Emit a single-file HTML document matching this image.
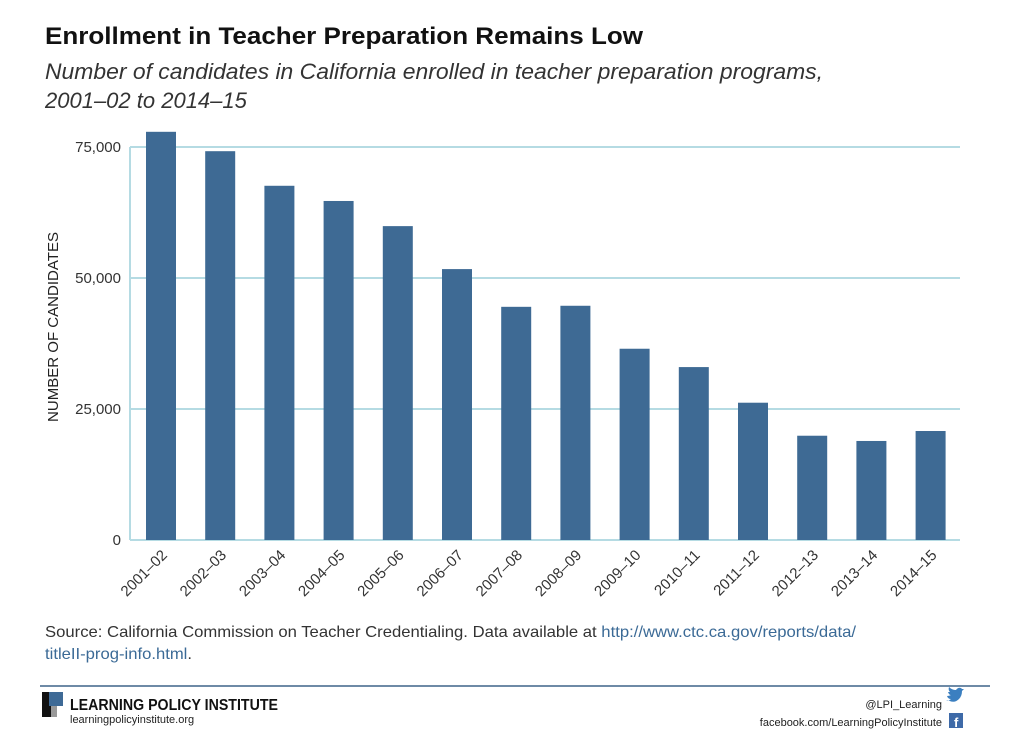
<!DOCTYPE html>
<html><head><meta charset="utf-8"><style>
body{margin:0;background:#fff;font-family:"Liberation Sans",sans-serif;}
svg{display:block}
</style></head><body>
<svg width="1024" height="750" xmlns="http://www.w3.org/2000/svg">
<text x="45" y="44" font-size="24" font-weight="bold" fill="#111" textLength="598" lengthAdjust="spacingAndGlyphs">Enrollment in Teacher Preparation Remains Low</text>
<text x="45" y="79" font-size="22" font-style="italic" fill="#333" textLength="778" lengthAdjust="spacingAndGlyphs">Number of candidates in California enrolled in teacher preparation programs,</text>
<text x="45" y="108" font-size="22" font-style="italic" fill="#333">2001–02 to 2014–15</text>
<g id="grid"></g>
<g id="bars"></g>
<g id="xlabels"></g>
<text transform="translate(58,327) rotate(-90)" text-anchor="middle" font-size="15" fill="#222" textLength="190" lengthAdjust="spacingAndGlyphs">NUMBER OF CANDIDATES</text>
<text x="45" y="637" font-size="16" fill="#333" textLength="811" lengthAdjust="spacingAndGlyphs">Source: California Commission on Teacher Credentialing. Data available at <tspan fill="#3b6a96">http://www.ctc.ca.gov/reports/data/</tspan></text>
<text x="45" y="659" font-size="16" fill="#3b6a96" textLength="147" lengthAdjust="spacingAndGlyphs">titleII-prog-info.html<tspan fill="#333">.</tspan></text>
<line x1="40" y1="686" x2="990" y2="686" stroke="#3e6488" stroke-width="1.5"/>
<g>
<rect x="42" y="692" width="10" height="25" fill="#111"/>
<rect x="49" y="692" width="14" height="14" fill="#3e6a96"/>
<rect x="51" y="706" width="6" height="11" fill="#999"/>
</g>
<text x="70" y="710" font-size="16" font-weight="bold" fill="#111" textLength="208" lengthAdjust="spacingAndGlyphs">LEARNING POLICY INSTITUTE</text>
<text x="70" y="723" font-size="11" fill="#222">learningpolicyinstitute.org</text>
<text x="942" y="708" font-size="11" fill="#222" text-anchor="end">@LPI_Learning</text>
<path d="M948 700 q6 4 11 -1 q3 -3 3 -8 l2 -2 l-2 0 l-1 -1 q-3 -1 -5 2 q-4 0 -7 -3 q-1 3 1 5 q-1 0 -2 0 q1 3 3 3 q-2 1 -4 1 q1 3 4 3 q-2 2 -5 1z" fill="#3b7fc0"/>
<text x="942" y="726" font-size="11" fill="#222" text-anchor="end">facebook.com/LearningPolicyInstitute</text>
<rect x="949" y="713" width="14" height="15" fill="#3e6aa8"/>
<text x="954" y="727" font-size="13" font-weight="bold" fill="#fff">f</text>
</svg>
<script>
const categories=["2001–02","2002–03","2003–04","2004–05","2005–06","2006–07","2007–08","2008–09","2009–10","2010–11","2011–12","2012–13","2013–14","2014–15"];
const values=[77900,74200,67600,64700,59900,51700,44500,44700,36500,33000,26200,19900,18900,20800];
const yTicks=[0,25000,50000,75000];
const yTickLabels=["0","25,000","50,000","75,000"];
const NS="http://www.w3.org/2000/svg";
const y0=540,yTop=147,left=130,right=960;
function y(v){return y0-(v/75000)*(y0-yTop);}
function x(i){return 161+i*59.2;}
function mk(t,a,p){const e=document.createElementNS(NS,t);for(const k in a)e.setAttribute(k,a[k]);p.appendChild(e);return e;}
const grid=document.getElementById('grid');
const ax=mk('line',{x1:left,y1:y(75000),x2:left,y2:y0,stroke:'#b5dbe3','stroke-width':2},grid);


yTicks.forEach((v,i)=>{
 const l=mk('line',{x1:left,y1:y(v),x2:right,y2:y(v),stroke:'#b5dbe3','stroke-width':2},grid);
 
 
 const t=mk('text',{x:121,y:y(v)+5,'text-anchor':'end','font-size':15,fill:'#333'},grid);
 t.textContent=yTickLabels[i];
 
 
});
const bars=document.getElementById('bars'),xl=document.getElementById('xlabels');
values.forEach((v,i)=>{
 const r=mk('rect',{x:x(i)-15,y:y(v),width:30,height:y0-y(v),fill:'#3e6a94'},bars);
 
 
 const t=mk('text',{transform:`translate(${x(i)+7},556) rotate(-45)`,'text-anchor':'end','font-size':15,fill:'#333'},xl);
 t.textContent=categories[i];
 
 
});
</script>
</body></html>
